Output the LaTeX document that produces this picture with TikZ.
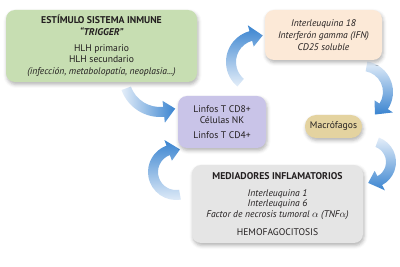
\documentclass[tikz,border=0pt]{standalone}
\usepackage{fontspec}
\setmainfont{PT Sans}
\usetikzlibrary{calc,shadows.blur}
\definecolor{gfill}{RGB}{199,222,178}
\definecolor{ofill}{RGB}{252,233,215}
\definecolor{pfill}{RGB}{201,196,232}
\definecolor{mfill}{RGB}{228,211,160}
\definecolor{grfill}{RGB}{229,229,229}
\definecolor{txt}{RGB}{35,31,32}
\definecolor{alight}{RGB}{228,238,249}
\definecolor{adark}{RGB}{58,132,208}
\newcommand\bluearrow[6]{%
  \pgfmathsetmacro\ArS{ifthenelse(#5>#4,1,-1)}%
  \pgfmathsetmacro\ArB{#5-\ArS*12/#3*180/pi}%
  \pgfmathsetmacro\ArO{#3+5}%
  \pgfmathsetmacro\ArI{#3-5}%
  \pgfmathsetmacro\ArHo{#3+11}%
  \pgfmathsetmacro\ArHi{#3-11}%
  \shade[#6] ($(#1,#2)+(#4:\ArO)$) arc[start angle=#4,end angle=\ArB,radius=\ArO]
     -- ($(#1,#2)+(\ArB:\ArHo)$) -- ($(#1,#2)+(#5:#3)$) -- ($(#1,#2)+(\ArB:\ArHi)$)
     -- ($(#1,#2)+(\ArB:\ArI)$) arc[start angle=\ArB,end angle=#4,radius=\ArI] -- cycle;
}
\tikzset{
  box/.style={rounded corners=9pt, align=center, text=txt, inner sep=0pt,
    font=\fontsize{9.6}{11.7}\selectfont,
    blur shadow={shadow xshift=1pt, shadow yshift=-2.5pt, shadow opacity=30, shadow blur radius=3.5pt}},
}
\newcommand\hd[1]{{\fontsize{9.8}{11.7}\selectfont\bfseries #1}}
\begin{document}
\begin{tikzpicture}[x=1pt,y=-1pt]
\useasboundingbox (0,0) rectangle (400,267);
% arrows
\bluearrow{160}{76}{36}{160}{65}{left color=alight, right color=adark}
\bluearrow{176}{172}{23}{80}{280}{bottom color=alight, top color=adark}
\bluearrow{258}{62}{27}{130}{280}{bottom color=alight, top color=adark}
\bluearrow{362}{92}{26}{280}{420}{top color=alight, bottom color=adark}
\bluearrow{370}{162}{21}{290}{455}{top color=alight, bottom color=adark}
% boxes
\node[box, fill=gfill, minimum width=191pt, minimum height=72pt] (trig) at (101.5,46)
  {\hd{ESTÍMULO SISTEMA INMUNE}\\\hd{\itshape ``TRIGGER''}\\[4pt]HLH primario\\HLH secundario\\\textit{(infección, metabolopatía, neoplasia...)}};
\node[box, fill=ofill, minimum width=117pt, minimum height=50pt] (cyt) at (323.5,35)
  {\textit{Interleuquina 18}\\\textit{Interferón gamma (IFN)}\\\textit{CD25 soluble}};
\node[box, fill=pfill, minimum width=88pt, minimum height=52pt] (linf) at (222,122)
  {Linfos T CD8+\\Células NK\\[3pt]Linfos T CD4+};
\node[box, fill=mfill, rounded corners=11pt, minimum width=57pt, minimum height=23pt] (mac) at (333.5,126.5)
  {Macrófagos};
\node[box, fill=grfill, minimum width=171pt, minimum height=78pt, font=\fontsize{9.6}{10.2}\selectfont] (med) at (277.5,204)
  {\hd{MEDIADORES INFLAMATORIOS}\\[7pt]\textit{Interleuquina 1}\\\textit{Interleuquina 6}\\\textit{Factor de necrosis tumoral $\alpha$ (TNF$\alpha$)}\\[8pt]HEMOFAGOCITOSIS};
\end{tikzpicture}
\end{document}
